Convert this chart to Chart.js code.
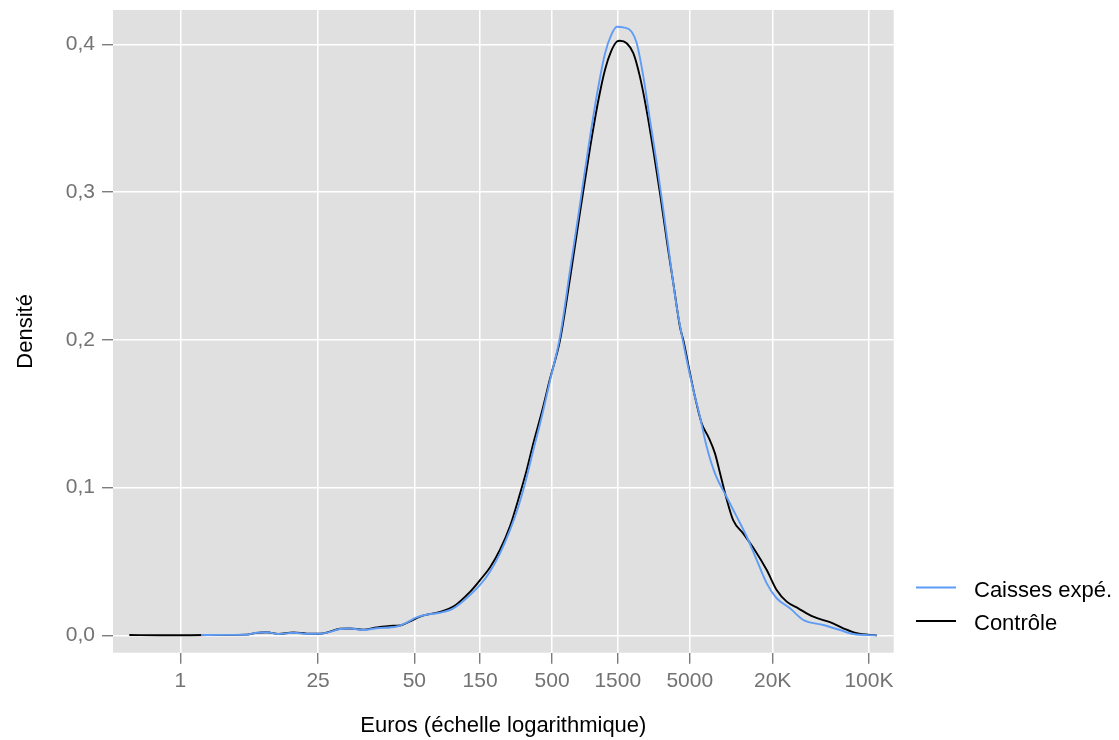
<!DOCTYPE html>
<html>
<head>
<meta charset="utf-8">
<script src="https://cdn.jsdelivr.net/npm/chart.js@4.4.1/dist/chart.umd.min.js"></script>
<style>
  html, body { margin: 0; padding: 0; background: #ffffff; }
  #wrap { width: 1119px; height: 740px; position: relative; }
</style>
</head>
<body>
<div id="wrap"><canvas id="c" width="1119" height="740"></canvas></div>
<script>
// ---- Data (x = log10 of euros, y = density) ----
const seriesNames = ["Caisses expé.", "Contrôle"];
const seriesColors = ["#5f9cf6", "#000000"];

const caissesLogX = [0.150, 0.320, 0.481, 0.554, 0.627, 0.711, 0.820, 0.917, 1.014, 1.086,
  1.159, 1.232, 1.328, 1.426, 1.571, 1.643, 1.716, 1.789, 1.885, 1.982,
  2.103, 2.176, 2.248, 2.321, 2.394, 2.454, 2.503, 2.563, 2.624, 2.685,
  2.757, 2.830, 2.903, 2.975, 3.035, 3.084, 3.129, 3.169, 3.216, 3.277,
  3.314, 3.362, 3.410, 3.459, 3.507, 3.556, 3.604, 3.648, 3.677, 3.725,
  3.773, 3.822, 3.882, 3.967, 4.040, 4.113, 4.185, 4.258, 4.330, 4.427,
  4.524, 4.669, 4.790, 4.887, 5.057];
const caissesDensity = [0.0003, 0.0004, 0.0005, 0.0019, 0.0022, 0.0010, 0.0019, 0.0012, 0.0012, 0.0024,
  0.0044, 0.0047, 0.0037, 0.0049, 0.0061, 0.0087, 0.0123, 0.0141, 0.0154, 0.0184,
  0.0274, 0.0342, 0.0432, 0.0556, 0.0714, 0.0871, 0.1030, 0.1255, 0.1480, 0.1729,
  0.2022, 0.2473, 0.2924, 0.3375, 0.3713, 0.3939, 0.4063, 0.4119, 0.4115, 0.4085,
  0.4007, 0.3781, 0.3488, 0.3195, 0.2879, 0.2541, 0.2225, 0.1999, 0.1864, 0.1661,
  0.1480, 0.1277, 0.1097, 0.0937, 0.0804, 0.0668, 0.0511, 0.0353, 0.0252, 0.0184,
  0.0105, 0.0071, 0.0037, 0.0010, 0.0001];

const controleLogX = [-0.371, -0.148, 0.070, 0.300, 0.481, 0.554, 0.627, 0.711, 0.820, 0.917,
  1.014, 1.086, 1.159, 1.232, 1.328, 1.426, 1.522, 1.595, 1.667, 1.740,
  1.885, 1.982, 2.103, 2.176, 2.248, 2.321, 2.394, 2.467, 2.515, 2.563,
  2.624, 2.685, 2.757, 2.830, 2.903, 2.975, 3.035, 3.084, 3.129, 3.169,
  3.192, 3.241, 3.289, 3.337, 3.386, 3.434, 3.483, 3.532, 3.580, 3.628,
  3.652, 3.701, 3.737, 3.786, 3.834, 3.882, 3.919, 3.962, 4.015, 4.088,
  4.173, 4.258, 4.330, 4.403, 4.487, 4.596, 4.717, 4.814, 4.911, 5.057];
const controleDensity = [0.0003, 0.0002, 0.0002, 0.0004, 0.0006, 0.0018, 0.0022, 0.0011, 0.0020, 0.0013,
  0.0012, 0.0026, 0.0046, 0.0047, 0.0040, 0.0055, 0.0065, 0.0068, 0.0095, 0.0128,
  0.0160, 0.0195, 0.0295, 0.0375, 0.0460, 0.0580, 0.0740, 0.0962, 0.1120, 0.1300,
  0.1510, 0.1740, 0.1999, 0.2420, 0.2870, 0.3300, 0.3620, 0.3830, 0.3955, 0.4018,
  0.4024, 0.4007, 0.3940, 0.3781, 0.3552, 0.3285, 0.2992, 0.2673, 0.2381, 0.2087,
  0.1999, 0.1773, 0.1614, 0.1434, 0.1344, 0.1232, 0.1097, 0.0939, 0.0779, 0.0689,
  0.0575, 0.0443, 0.0308, 0.0229, 0.0184, 0.0127, 0.0090, 0.0049, 0.0015, 0.0001];

// Tick positions (in euros) and their printed labels
const xTickEuros = [1, 10, 50, 150, 500, 1500, 5000, 20000, 100000];
const xTickLabels = ["1", "25", "50", "150", "500", "1500", "5000", "20K", "100K"];
const yTickValues = [0, 0.1, 0.2, 0.3, 0.4];
const yTickLabels = ["0,0", "0,1", "0,2", "0,3", "0,4"];

const xTitle = "Euros (échelle logarithmique)";
const yTitle = "Densité";

// ---- Chart ----
const FONT = "'Liberation Sans', Arial, Helvetica, sans-serif";

function toPoints(xs, ys) { return xs.map((x, i) => ({ x: x, y: ys[i] })); }

const panelAndText = {
  id: 'panelAndText',
  beforeDraw(chart) {
    const { ctx, chartArea: a } = chart;
    ctx.save();
    ctx.fillStyle = '#e0e0e0';
    ctx.fillRect(a.left, a.top, a.right - a.left, a.bottom - a.top);
    ctx.restore();
  },
  afterDraw(chart) {
    const { ctx, chartArea: a } = chart;
    ctx.save();
    ctx.fillStyle = '#000000';
    ctx.font = '22px ' + FONT;
    ctx.textAlign = 'center';
    ctx.textBaseline = 'alphabetic';
    ctx.fillText(xTitle, (a.left + a.right) / 2, 731.5);
    ctx.save();
    ctx.translate(32, (a.top + a.bottom) / 2);
    ctx.rotate(-Math.PI / 2);
    ctx.fillText(yTitle, 0, 0);
    ctx.restore();
    // legend
    const rows = [587.5, 621];
    seriesNames.forEach((name, i) => {
      ctx.strokeStyle = seriesColors[i];
      ctx.lineWidth = 1.8;
      ctx.beginPath();
      ctx.moveTo(916, rows[i]);
      ctx.lineTo(956, rows[i]);
      ctx.stroke();
      ctx.fillStyle = '#000000';
      ctx.textAlign = 'left';
      ctx.textBaseline = 'alphabetic';
      ctx.fillText(name, 974, rows[i] + 9);
    });
    ctx.restore();
  }
};

new Chart(document.getElementById('c'), {
  type: 'line',
  data: {
    datasets: [
      {
        label: seriesNames[0],
        data: toPoints(caissesLogX, caissesDensity),
        borderColor: seriesColors[0],
        borderWidth: 1.9,
        pointRadius: 0,
        fill: false,
        cubicInterpolationMode: 'monotone'
      },
      {
        label: seriesNames[1],
        data: toPoints(controleLogX, controleDensity),
        borderColor: seriesColors[1],
        borderWidth: 1.9,
        pointRadius: 0,
        fill: false,
        cubicInterpolationMode: 'monotone'
      }
    ]
  },
  options: {
    responsive: false,
    animation: false,
    layout: { padding: { left: 0, right: 225.3, top: 10, bottom: 0 } },
    plugins: { legend: { display: false }, tooltip: { enabled: false } },
    scales: {
      x: {
        type: 'linear',
        min: -0.4895,
        max: 5.180,
        afterBuildTicks(scale) {
          scale.ticks = xTickEuros.map(v => ({ value: Math.log10(v) }));
        },
        afterFit(scale) {
          scale.height = 87.3;
          scale.paddingLeft = 0; scale.paddingRight = 0;
        },
        grid: {
          color: '#ffffff',
          lineWidth: 1.5,
          drawTicks: true,
          tickLength: 11,
          tickColor: '#666666',
          tickWidth: 1.2
        },
        border: { display: false },
        ticks: {
          autoSkip: false,
          maxRotation: 0,
          padding: 5,
          color: '#737373',
          font: { family: FONT, size: 21 },
          callback: (v, i) => xTickLabels[i]
        }
      },
      y: {
        type: 'linear',
        min: -0.01164,
        max: 0.4232,
        afterBuildTicks(scale) {
          scale.ticks = yTickValues.map(v => ({ value: v }));
        },
        afterFit(scale) {
          scale.width = 113;
          scale.paddingTop = 0; scale.paddingBottom = 0;
        },
        grid: {
          color: '#ffffff',
          lineWidth: 1.5,
          drawTicks: true,
          tickLength: 11,
          tickColor: '#666666',
          tickWidth: 1.2
        },
        border: { display: false },
        ticks: {
          padding: 7,
          color: '#737373',
          font: { family: FONT, size: 21 },
          callback: (v, i) => yTickLabels[i]
        }
      }
    }
  },
  plugins: [panelAndText]
});
</script>
</body>
</html>
